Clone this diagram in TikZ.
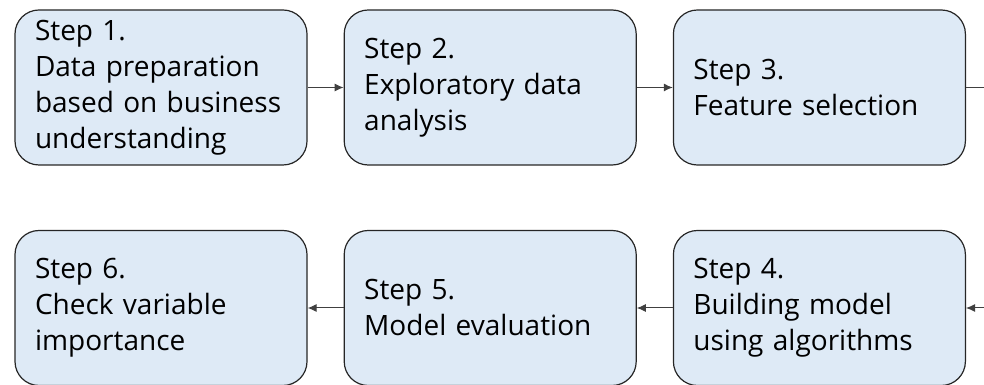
\documentclass[tikz,border=0pt]{standalone}
\usepackage{fontspec}
\setmainfont{Open Sans}
\usepackage{tikz}
\usetikzlibrary{arrows.meta,positioning}
\definecolor{boxfill}{RGB}{222,234,246}

\begin{document}
\begin{tikzpicture}[x=1pt, y=1pt,
    stepbox/.style={draw=black!85, line width=1.2pt, fill=boxfill, rounded corners=24pt,
        minimum width=292pt, minimum height=155pt, text width=252pt, inner xsep=20pt,
        align=left, font=\fontsize{28}{36}\selectfont},
    link/.style={-{Latex[length=9pt,width=8pt]}, line width=1pt, draw=black!75}]
    % Frame of the picture
    \useasboundingbox (0,0) rectangle (984,385);
    \clip (0,0) rectangle (984,385);

    % Top row
    \node[stepbox] (step1) at (161,297.5) {Step 1.\\Data preparation\\based on business\\understanding};
    \node[stepbox, right=36pt of step1] (step2) {Step 2.\\Exploratory data\\analysis};
    \node[stepbox, right=36pt of step2] (step3) {Step 3.\\Feature selection};

    % Bottom row (runs right to left)
    \node[stepbox] (step6) at (161,77) {Step 6.\\Check variable\\importance};
    \node[stepbox, right=36pt of step6] (step5) {Step 5.\\Model evaluation};
    \node[stepbox, right=36pt of step5] (step4) {Step 4.\\Building model\\using algorithms};

    % Connectors
    \draw[link] (step1) -- (step2);
    \draw[link] (step2) -- (step3);
    \draw[link] (step3.east) -- ++(40,0) |- (step4.east);
    \draw[link] (step4) -- (step5);
    \draw[link] (step5) -- (step6);
\end{tikzpicture}
\end{document}
